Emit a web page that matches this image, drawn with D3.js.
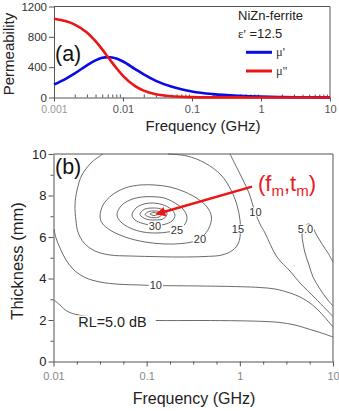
<!DOCTYPE html>
<html><head><meta charset="utf-8">
<script src="https://cdn.jsdelivr.net/npm/d3@7"></script>
<style>
html,body{margin:0;padding:0;background:#fff;}
svg{display:block;font-family:"Liberation Sans",Arial,sans-serif;}
</style>
</head><body>
<svg id="c" width="339" height="411"></svg>
<script>
// ---------- Panel (a) data ----------
const freqA = [0.001,0.0015,0.002,0.003,0.004,0.005,0.006,0.007,0.008,0.01,0.015,0.02,0.03,0.05,0.07,0.1,0.2,0.5,1,2,5,10];
const muPrime = [171,249,317,424,490,523,533,528,513,475,375,305,220,145,110,80,45,22,12,6,3,1.5];
const muDoublePrime = [1038,1004,961,856,742,634,538,457,389,286,150,90,42,16,9,5,2,1,0.5,0.3,0.2,0.1];
const tickAx = [0.001,0.01,0.1,1,10];
const tickAxLabels = ["0.001","0.01","0.1","1","10"];
const tickAxMinor = [0.002,0.003,0.004,0.005,0.006,0.007,0.008,0.009,0.02,0.03,0.04,0.05,0.06,0.07,0.08,0.09,0.2,0.3,0.4,0.5,0.6,0.7,0.8,0.9,2,3,4,5,6,7,8,9];
const tickAy = [0,400,800,1200];
const tickAyLabels = ["0","400","800","1200"];
const legendA = ["\u03bc'","\u03bc''"];

// ---------- Panel (b) data: RL contours as [frequency GHz, thickness mm] ----------
const rl45 = [[0.1085,7.108],[0.1198,7.181],[0.1323,7.108],[0.1198,7.036]];
const rl40 = [[0.0960,7.084],[0.1059,7.229],[0.1198,7.253],[0.1356,7.229],[0.1461,7.108],[0.1356,6.964],[0.1198,6.930],[0.1059,6.964]];
const rl35 = [[0.0848,7.084],[0.0936,7.325],[0.1141,7.398],[0.1425,7.349],[0.1653,7.157],[0.1535,6.892],[0.1228,6.819],[0.0984,6.867]];
const rl30 = [[0.0696,7.060],[0.0768,7.398],[0.0936,7.590],[0.1141,7.639],[0.1461,7.566],[0.1824,7.349],[0.2014,7.060],[0.1870,6.771],[0.1535,6.602],[0.1228,6.554],[0.0913,6.651],[0.0749,6.819]];
const rl25 = [[0.0480,7.060],[0.0530,7.494],[0.0662,7.783],[0.0891,7.928],[0.1141,7.942],[0.1535,7.880],[0.2014,7.639],[0.2454,7.349],[0.2709,6.964],[0.2579,6.627],[0.2169,6.361],[0.1694,6.241],[0.1291,6.193],[0.0913,6.241],[0.0662,6.434],[0.0530,6.723]];
const rl20 = [[0.0316,7.012],[0.0340,7.542],[0.0425,8.024],[0.0586,8.361],[0.0848,8.506],[0.1228,8.506],[0.1780,8.410],[0.2579,8.169],[0.3555,7.831],[0.4441,7.446],[0.4964,6.964],[0.4667,6.434],[0.4023,6.048],[0.3302,5.807],[0.2394,5.687],[0.1573,5.663],[0.0960,5.759],[0.0586,6.000],[0.0404,6.337],[0.0332,6.675]];
const rl15 = [[0.0340,10.0],[0.0259,9.614],[0.0202,8.988],[0.0179,8.265],[0.0170,7.542],[0.0174,6.819],[0.0183,6.241],[0.0213,5.711],[0.0279,5.325],[0.0404,5.133],[0.0662,5.084],[0.1085,5.060],[0.2279,5.036],[0.4227,5.060],[0.6434,5.133],[0.8445,5.373],[0.9674,5.711],[1.016,6.241],[1.004,6.819],[0.9322,7.542],[0.8036,8.265],[0.6279,8.988],[0.4227,9.566],[0.2709,9.904],[0.1694,10.0]];
const rl10upper = [[0.784,10.0],[0.932,9.325],[1.081,8.747],[1.254,8.120],[1.455,7.205],[1.646,6.627],[1.862,6.193],[2.505,5.036],[3.454,4.361],[4.424,3.783],[6.409,3.060],[10,2.169]];
const rl10lower = [[0.01012,6.386],[0.01064,5.952],[0.01174,5.470],[0.01362,4.892],[0.01660,4.410],[0.02178,4.048],[0.03155,3.831],[0.0517,3.720],[0.0848,3.687],[0.1228,3.663],[0.3736,3.639],[1.004,3.605],[1.646,3.566],[2.385,3.494],[3.454,3.301],[4.424,3.108],[5.662,2.819],[7.250,2.386],[10,1.663]];
const rl5upper = [[10,2.675],[8.620,3.012],[7.250,3.494],[6.100,4.072],[5.525,4.651],[5.005,5.229],[4.764,5.711],[4.648,6.096],[4.883,6.482],[5.391,6.627],[5.950,6.530],[6.570,6.145],[7.617,5.663],[8.836,5.229],[10,4.795]];
const rl5lower = [[0.01012,2.964],[0.01174,2.723],[0.01431,2.400],[0.0247,2.145],[0.0517,2.024],[0.1244,1.976],[0.3736,1.976],[1.004,1.961],[1.862,1.928],[2.698,1.880],[3.908,1.759],[5.258,1.590],[7.250,1.398],[10,1.181]];
const closedContours = [rl45, rl40, rl35, rl30, rl25, rl20];
const openContours = [rl15, rl10upper, rl10lower, rl5upper, rl5lower];
const labelText = ["30","25","20","15","10","5.0","10"];
const labelFreq = [0.1228,0.2116,0.3736,0.955,1.47,5.06,0.1254];
const labelThick = [6.554,6.361,5.88,6.386,7.205,6.386,3.663];
const tickBx = [0.01,0.1,1,10];
const tickBxLabels = ["0.01","0.1","1","10"];
const tickBxMinor = [0.0178,0.0316,0.0562,0.178,0.316,0.562,1.78,3.16,5.62];
const tickBy = [0,2,4,6,8,10];
const tickByMinor = [1,3,5,7,9];
const optimum = [0.128, 7.11];     // (f_m, t_m)
const arrowStart = [1.35, 8.43];

// ---------- drawing ----------
const svg = d3.select("#c");
const AX = "#555";
const xA = d3.scaleLog().domain([0.001,10]).range([54,330]);
const yA = d3.scaleLinear().domain([0,1200]).range([97.5,6.5]);
const xB = d3.scaleLog().domain([0.01,10]).range([53.5,333]);
const yB = d3.scaleLinear().domain([0,10]).range([361.5,154]);

function styleAxis(g, col, fs){
  g.select(".domain").attr("stroke", AX).attr("stroke-width",1);
  g.selectAll(".tick line").attr("stroke", AX).attr("stroke-width",1);
  g.selectAll(".tick text").attr("fill", col).style("font-size", fs+"px").style("font-family", '"Liberation Sans",Arial,sans-serif');
}

// ----- Panel (a) -----
svg.append("path").attr("d",`M${xA(0.001)},${yA(1200)}H${xA(10)}V${yA(0)}`).attr("fill","none").attr("stroke",AX).attr("stroke-width",1);
const gAxm = svg.append("g").attr("transform",`translate(0,${yA(0)})`)
  .call(d3.axisBottom(xA).tickValues(tickAxMinor).tickFormat("").tickSize(-3).tickSizeOuter(0));
gAxm.select(".domain").remove(); gAxm.selectAll("line").attr("stroke",AX);
const gAx = svg.append("g").attr("transform",`translate(0,${yA(0)})`)
  .call(d3.axisBottom(xA).tickValues(tickAx).tickFormat((d,i)=>tickAxLabels[i]).tickSize(4).tickSizeOuter(0).tickPadding(4));
styleAxis(gAx, "#555", 11);
gAx.selectAll(".tick text").filter((d,i)=>i===0).attr("fill","#999").style("font-size","10.5px");
const gAy = svg.append("g").attr("transform",`translate(${xA(0.001)},0)`)
  .call(d3.axisLeft(yA).tickValues(tickAy).tickFormat((d,i)=>tickAyLabels[i]).tickSize(5).tickSizeOuter(0).tickPadding(2));
styleAxis(gAy, "#333", 11.5);

const lineA = (vals)=> d3.line().x((d,i)=>xA(freqA[i])).y(d=>yA(d)).curve(d3.curveMonotoneX)(vals);
svg.append("path").attr("d", lineA(muPrime)).attr("fill","none").attr("stroke","#0a0ae6").attr("stroke-width",2.6);
svg.append("path").attr("d", lineA(muDoublePrime)).attr("fill","none").attr("stroke","#ec1515").attr("stroke-width",2.6);

svg.append("text").attr("x",203).attr("y",131).attr("text-anchor","middle").style("font-size","15px").attr("fill","#222").text("Frequency (GHz)");
svg.append("text").attr("transform","translate(13.5,54) rotate(-90)").attr("text-anchor","middle").style("font-size","15px").attr("fill","#222").text("Permeability");
svg.append("text").attr("x",55).attr("y",61).style("font-size","21.5px").attr("fill","#111").text("(a)");

// legend (a)
svg.append("text").attr("x",238).attr("y",19.5).style("font-size","13px").attr("fill","#222").text("NiZn-ferrite");
const eps = svg.append("text").attr("x",238).attr("y",38).style("font-size","13px").attr("fill","#222");
eps.append("tspan").style("font-family",'"Liberation Serif","DejaVu Serif",serif').text("\u03b5'");
eps.append("tspan").text(" =12.5");
const legCol = ["#0a0ae6","#ec1515"];
[52.3, 71].forEach((yy,i)=>{
  svg.append("line").attr("x1",246).attr("x2",272).attr("y1",yy).attr("y2",yy).attr("stroke",legCol[i]).attr("stroke-width",3);
  svg.append("text").attr("x",276).attr("y",yy+3.5).style("font-size","12.5px").style("font-family",'"Liberation Serif","DejaVu Serif",serif').attr("fill","#333").text(legendA[i]);
});

// ----- Panel (b) -----
svg.append("path").attr("d",`M${xB(0.01)},${yB(10)}H${xB(10)}V${yB(0)}`).attr("fill","none").attr("stroke",AX).attr("stroke-width",1);
const gBxm = svg.append("g").attr("transform",`translate(0,${yB(0)})`)
  .call(d3.axisBottom(xB).tickValues(tickBxMinor).tickFormat("").tickSize(3).tickSizeOuter(0));
gBxm.select(".domain").remove(); gBxm.selectAll("line").attr("stroke",AX);
const gBx = svg.append("g").attr("transform",`translate(0,${yB(0)})`)
  .call(d3.axisBottom(xB).tickValues(tickBx).tickFormat((d,i)=>tickBxLabels[i]).tickSize(5).tickSizeOuter(0).tickPadding(5.5));
styleAxis(gBx, "#888", 11);
const gBym = svg.append("g").attr("transform",`translate(${xB(0.01)},0)`)
  .call(d3.axisLeft(yB).tickValues(tickByMinor).tickFormat("").tickSize(3).tickSizeOuter(0));
gBym.select(".domain").remove(); gBym.selectAll("line").attr("stroke",AX);
const gBy = svg.append("g").attr("transform",`translate(${xB(0.01)},0)`)
  .call(d3.axisLeft(yB).tickValues(tickBy).tickFormat(d3.format("d")).tickSize(5).tickSizeOuter(0).tickPadding(2));
styleAxis(gBy, "#222", 13);

const cg = svg.append("g").attr("fill","none").attr("stroke","#5a5a5a").attr("stroke-width",0.9);
const lineClosed = d3.line().x(d=>xB(d[0])).y(d=>yB(d[1])).curve(d3.curveCatmullRomClosed.alpha(0.5));
const lineOpen = d3.line().x(d=>xB(d[0])).y(d=>yB(d[1])).curve(d3.curveCatmullRom.alpha(0.5));
closedContours.forEach(c=> cg.append("path").attr("d", lineClosed(c)));
openContours.forEach(c=> cg.append("path").attr("d", lineOpen(c)));

function bgLabel(x, y, txt, fs, col, padx, pady, anchor){
  const g = svg.append("g");
  const t = g.append("text").attr("x",x).attr("y",y).attr("text-anchor",anchor||"middle")
    .attr("dominant-baseline","central").style("font-size",fs+"px").attr("fill",col).text(txt);
  const bb = t.node().getBBox();
  g.insert("rect","text").attr("x",bb.x-padx).attr("y",bb.y-pady).attr("width",bb.width+2*padx).attr("height",bb.height+2*pady).attr("fill","#fff");
}
labelText.forEach((s,i)=> bgLabel(xB(labelFreq[i]), yB(labelThick[i]), s, 11, "#333", 1, -1.5));
bgLabel(112.5, 321.5, "RL=5.0 dB", 14.4, "#222", 9, -2);

// arrow to (f_m, t_m)
svg.append("defs").append("marker").attr("id","ah").attr("viewBox","0 0 10 10").attr("refX",9).attr("refY",5)
  .attr("markerWidth",4.4).attr("markerHeight",3.8).attr("orient","auto").attr("markerUnits","strokeWidth")
  .append("path").attr("d","M0,0L10,5L0,10Z").attr("fill","#ec1515");
svg.append("line").attr("x1",xB(arrowStart[0])).attr("y1",yB(arrowStart[1])).attr("x2",xB(optimum[0])).attr("y2",yB(optimum[1]))
  .attr("stroke","#ec1515").attr("stroke-width",2.5).attr("marker-end","url(#ah)");
const fm = svg.append("text").attr("x",258).attr("y",191).style("font-size","22px").attr("fill","#e8191c");
fm.append("tspan").text("(f");
fm.append("tspan").attr("dy",5).style("font-size","15px").text("m");
fm.append("tspan").attr("dy",-5).text(",t");
fm.append("tspan").attr("dy",5).style("font-size","15px").text("m");
fm.append("tspan").attr("dy",-5).text(")");

svg.append("text").attr("x",194).attr("y",404).attr("text-anchor","middle").style("font-size","16px").attr("fill","#222").text("Frequency (GHz)");
svg.append("text").attr("transform","translate(23,261) rotate(-90)").attr("text-anchor","middle").style("font-size","16.5px").attr("fill","#222").text("Thickness (mm)");
svg.append("text").attr("x",55).attr("y",174).style("font-size","21.5px").attr("fill","#111").text("(b)");
</script>
</body></html>
